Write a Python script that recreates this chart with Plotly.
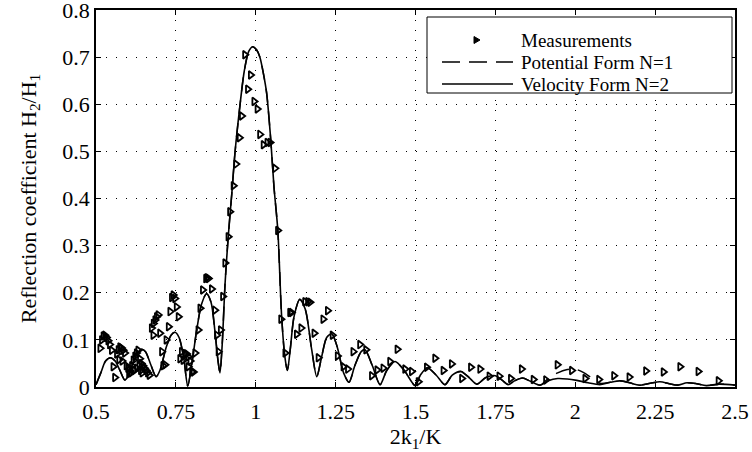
import plotly.graph_objects as go

# Measurements (2k1/K, H2/H1)
meas_x = [0.513, 0.518, 0.523, 0.528, 0.533, 0.538, 0.543, 0.549, 0.554, 0.559,
          0.565, 0.570, 0.575, 0.580, 0.585, 0.590, 0.572, 0.582, 0.595, 0.600,
          0.605, 0.610, 0.612, 0.617, 0.622, 0.627, 0.632, 0.637, 0.642, 0.647,
          0.652, 0.657, 0.662, 0.667, 0.620, 0.628, 0.635, 0.640, 0.645, 0.603,
          0.674, 0.679, 0.680, 0.685, 0.690, 0.695, 0.700, 0.706, 0.710, 0.716,
          0.720, 0.727, 0.732, 0.737, 0.742, 0.747, 0.752, 0.758, 0.763, 0.768,
          0.773, 0.779, 0.784, 0.789, 0.789, 0.795, 0.800, 0.805, 0.810,
          0.820, 0.826, 0.834, 0.844, 0.848, 0.852, 0.862, 0.872, 0.878, 0.883,
          0.890, 0.897, 0.904, 0.914, 0.919, 0.930, 0.938,
          0.949, 0.956, 0.966, 0.975, 0.984, 0.995, 1.005, 1.013, 1.024, 1.036,
          1.045, 1.060, 1.069, 1.079, 1.092, 1.107, 1.112, 1.128, 1.142, 1.154,
          1.163, 1.170, 1.183, 1.196, 1.211, 1.225, 1.240, 1.256, 1.274, 1.288,
          1.305, 1.326, 1.345, 1.363, 1.380, 1.399, 1.420, 1.443, 1.467, 1.488,
          1.509, 1.535, 1.561, 1.587, 1.613, 1.645, 1.673, 1.702, 1.731, 1.762,
          1.798, 1.832, 1.869, 1.908, 1.944, 1.989, 2.031, 2.074, 2.121, 2.169,
          2.221, 2.276, 2.328, 2.385, 2.448]
meas_y = [0.082, 0.100, 0.108, 0.110, 0.105, 0.098, 0.090, 0.078, 0.043, 0.020,
          0.070, 0.079, 0.085, 0.083, 0.078, 0.072, 0.058, 0.055, 0.045, 0.040,
          0.035, 0.030, 0.045, 0.057, 0.065, 0.072, 0.078, 0.060, 0.050, 0.045,
          0.040, 0.035, 0.030, 0.025, 0.035, 0.040, 0.045, 0.035, 0.030, 0.028,
          0.125, 0.110, 0.135, 0.142, 0.149, 0.153, 0.114, 0.075, 0.045, 0.047,
          0.100, 0.128, 0.160, 0.190, 0.195, 0.188, 0.170, 0.149, 0.060, 0.075,
          0.057, 0.071, 0.070, 0.064, 0.043, 0.055, 0.032, 0.032, 0.072,
          0.121, 0.167, 0.206, 0.230, 0.232, 0.230, 0.208, 0.163, 0.110, 0.075,
          0.121, 0.192, 0.263, 0.319, 0.372, 0.427, 0.473,
          0.529, 0.575, 0.705, 0.632, 0.662, 0.606, 0.590, 0.536, 0.514, 0.519,
          0.519, 0.464, 0.332, 0.144, 0.072, 0.158, 0.158, 0.112, 0.125, 0.181,
          0.181, 0.180, 0.114, 0.062, 0.144, 0.162, 0.110, 0.066, 0.043, 0.038,
          0.075, 0.090, 0.079, 0.024, 0.036, 0.040, 0.054, 0.080, 0.038, 0.033,
          0.011, 0.042, 0.061, 0.035, 0.049, 0.018, 0.042, 0.038, 0.023, 0.023,
          0.018, 0.038, 0.016, 0.015, 0.047, 0.035, 0.018, 0.016, 0.024, 0.021,
          0.034, 0.032, 0.043, 0.033, 0.013]

# Velocity form N=2 (solid)
vel_x = [0.50, 0.515, 0.53, 0.545, 0.56, 0.575, 0.59, 0.60, 0.615, 0.63,
         0.643, 0.655, 0.67, 0.688, 0.70, 0.72, 0.735, 0.747, 0.76, 0.775,
         0.787, 0.80, 0.815, 0.83, 0.846, 0.86, 0.872, 0.882, 0.888, 0.895,
         0.904, 0.914, 0.925, 0.935, 0.949, 0.964, 0.978, 0.99, 1.003, 1.013,
         1.024, 1.034, 1.047, 1.057, 1.069, 1.081, 1.091, 1.099, 1.108, 1.12,
         1.138, 1.155, 1.175, 1.191, 1.205, 1.222, 1.238, 1.255, 1.275, 1.292,
         1.31, 1.33, 1.342, 1.365, 1.389, 1.41, 1.436, 1.465, 1.499, 1.515,
         1.537, 1.565, 1.592, 1.615, 1.642, 1.668, 1.692, 1.72, 1.75, 1.77,
         1.79, 1.81, 1.835, 1.86, 1.89, 1.915, 1.945, 1.975, 2.005, 2.04,
         2.077, 2.11, 2.14, 2.17, 2.2, 2.235, 2.265, 2.295, 2.32, 2.35,
         2.38, 2.41, 2.45, 2.5]
vel_y = [0.005, 0.030, 0.055, 0.062, 0.055, 0.035, 0.015, 0.022, 0.050, 0.072,
         0.080, 0.075, 0.050, 0.022, 0.035, 0.085, 0.110, 0.116, 0.105, 0.060,
         0.002, 0.050, 0.120, 0.175, 0.198, 0.180, 0.120, 0.055, 0.030, 0.090,
         0.220, 0.320, 0.410, 0.497, 0.588, 0.670, 0.712, 0.722, 0.715, 0.700,
         0.665, 0.624, 0.524, 0.425, 0.333, 0.150, 0.065, 0.035, 0.080, 0.150,
         0.186, 0.165, 0.080, 0.022, 0.060, 0.105, 0.113, 0.085, 0.030, 0.010,
         0.045, 0.075, 0.079, 0.045, 0.005, 0.035, 0.054, 0.035, 0.003, 0.025,
         0.041, 0.025, 0.005, 0.025, 0.033, 0.020, 0.006, 0.020, 0.024, 0.015,
         0.005, 0.013, 0.019, 0.012, 0.004, 0.013, 0.018, 0.017, 0.014, 0.009,
         0.005, 0.010, 0.013, 0.009, 0.004, 0.008, 0.011, 0.007, 0.004, 0.009,
         0.007, 0.003, 0.006, 0.004]

# Potential form N=1 (dashed)
pot_x = [0.50, 0.515, 0.53, 0.545, 0.56, 0.575, 0.59, 0.60, 0.615, 0.63,
         0.643, 0.655, 0.67, 0.688, 0.70, 0.72, 0.735, 0.747, 0.76, 0.775,
         0.787, 0.80, 0.815, 0.83, 0.846, 0.86, 0.872, 0.882, 0.888, 0.895,
         0.904, 0.914, 0.925, 0.935, 0.949, 0.964, 0.978, 0.99, 1.003, 1.013,
         1.024, 1.034, 1.047, 1.057, 1.069, 1.081, 1.091, 1.099, 1.108, 1.12,
         1.138, 1.155, 1.175, 1.191, 1.205, 1.222, 1.238, 1.255, 1.275, 1.292,
         1.31, 1.33, 1.342, 1.365, 1.389, 1.41, 1.436, 1.465, 1.499, 1.515,
         1.537, 1.565, 1.592, 1.615, 1.642, 1.668, 1.692, 1.72, 1.75, 1.77,
         1.79, 1.81, 1.835, 1.86, 1.89, 1.915, 1.945, 1.975, 2.0, 2.025,
         2.05, 2.077, 2.11, 2.14, 2.17, 2.2, 2.235, 2.265, 2.295, 2.32,
         2.35, 2.38, 2.41, 2.45, 2.5]
pot_y = [0.005, 0.030, 0.055, 0.062, 0.055, 0.035, 0.015, 0.022, 0.050, 0.072,
         0.080, 0.075, 0.050, 0.022, 0.035, 0.085, 0.110, 0.116, 0.105, 0.060,
         0.002, 0.050, 0.120, 0.175, 0.198, 0.180, 0.120, 0.055, 0.030, 0.090,
         0.220, 0.320, 0.410, 0.497, 0.588, 0.670, 0.712, 0.722, 0.715, 0.700,
         0.665, 0.624, 0.524, 0.425, 0.333, 0.150, 0.065, 0.035, 0.080, 0.150,
         0.186, 0.165, 0.080, 0.022, 0.060, 0.105, 0.113, 0.085, 0.030, 0.010,
         0.045, 0.075, 0.079, 0.045, 0.005, 0.035, 0.054, 0.035, 0.003, 0.025,
         0.041, 0.025, 0.005, 0.025, 0.033, 0.020, 0.006, 0.020, 0.024, 0.015,
         0.005, 0.013, 0.019, 0.012, 0.004, 0.018, 0.030, 0.037, 0.038, 0.031,
         0.020, 0.008, 0.010, 0.013, 0.009, 0.004, 0.008, 0.011, 0.007, 0.004,
         0.009, 0.007, 0.003, 0.006, 0.004]

x_ticks = [0.5, 0.75, 1.0, 1.25, 1.5, 1.75, 2.0, 2.25, 2.5]
x_tick_labels = ["0.5", "0.75", "1", "1.25", "1.5", "1.75", "2", "2.25", "2.5"]
y_ticks = [0, 0.1, 0.2, 0.3, 0.4, 0.5, 0.6, 0.7, 0.8]
y_tick_labels = ["0", "0.1", "0.2", "0.3", "0.4", "0.5", "0.6", "0.7", "0.8"]
legend_labels = ["Measurements", "Potential Form N=1", "Velocity Form N=2"]

FONT = "Liberation Serif, Times New Roman, serif"
W, H = 752, 452
ML, MR, MT, MB = 96, 17, 10, 65
PW, PH = W - ML - MR, H - MT - MB


def px(xp):
    return (xp - ML) / PW


def py(yp):
    return (H - MB - yp) / PH


fig = go.Figure()
fig.add_trace(go.Scatter(
    x=meas_x, y=meas_y, mode="markers", name=legend_labels[0],
    marker=dict(symbol="triangle-right-open", size=7, color="black",
                line=dict(width=1.8, color="black")),
))
fig.add_trace(go.Scatter(
    x=pot_x, y=pot_y, mode="lines", name=legend_labels[1],
    line=dict(color="black", width=1.5, dash="14px,9px", shape="spline", smoothing=0.8),
))
fig.add_trace(go.Scatter(
    x=vel_x, y=vel_y, mode="lines", name=legend_labels[2],
    line=dict(color="black", width=1.6, shape="spline", smoothing=0.8),
))

# Legend box drawn in paper space (Matlab-style: long samples, tight rows)
rows = [40, 62, 84]
shapes = [
    dict(type="rect", xref="paper", yref="paper",
         x0=px(427), x1=px(732), y0=py(93), y1=py(17),
         line=dict(color="black", width=1), fillcolor="white", layer="above"),
    dict(type="path", xref="paper", yref="paper",
         path=f"M {px(474)},{py(rows[0] - 3.5)} L {px(474)},{py(rows[0] + 3.5)} "
              f"L {px(480)},{py(rows[0])} Z",
         line=dict(color="black", width=1), fillcolor="black", layer="above"),
    dict(type="line", xref="paper", yref="paper",
         x0=px(442), x1=px(513), y0=py(rows[1]), y1=py(rows[1]),
         line=dict(color="black", width=1.5, dash="18px,9px"), layer="above"),
    dict(type="line", xref="paper", yref="paper",
         x0=px(442), x1=px(513), y0=py(rows[2]), y1=py(rows[2]),
         line=dict(color="black", width=1.5), layer="above"),
]
annotations = [
    dict(xref="paper", yref="paper", x=px(519), y=py(r), text=t,
         showarrow=False, xanchor="left", yanchor="middle",
         font=dict(family=FONT, size=19, color="black"))
    for r, t in zip(rows, legend_labels)
]

axis_common = dict(
    showline=True, linecolor="black", linewidth=1.5, mirror="ticks",
    ticks="inside", ticklen=5, tickwidth=1, tickcolor="black",
    showgrid=True, gridcolor="black", gridwidth=1, griddash="1px,9px",
    zeroline=False, automargin=False, ticklabeloverflow="allow",
    tickfont=dict(family=FONT, size=22, color="black"),
)

fig.update_layout(
    width=W, height=H,
    margin=dict(l=ML, r=MR, t=MT, b=MB),
    paper_bgcolor="white", plot_bgcolor="white",
    font=dict(family=FONT, size=22, color="black"),
    showlegend=False,
    shapes=shapes,
    annotations=annotations,
    xaxis=dict(
        range=[0.5, 2.5], tickvals=x_ticks, ticktext=x_tick_labels,
        ticklabelstandoff=4,
        title=dict(text="2k<sub>1</sub>/K", standoff=2,
                   font=dict(family=FONT, size=22)),
        **axis_common,
    ),
    yaxis=dict(
        range=[0, 0.8], tickvals=y_ticks, ticktext=y_tick_labels,
        title=dict(text="Reflection coefficient H<sub>2</sub>/H<sub>1</sub>", standoff=20,
                   font=dict(family=FONT, size=22)),
        **axis_common,
    ),
)

fig.write_html("out.html",
               config={"displayModeBar": False},
               post_script="document.body.style.margin='0';document.body.style.padding='0';")
